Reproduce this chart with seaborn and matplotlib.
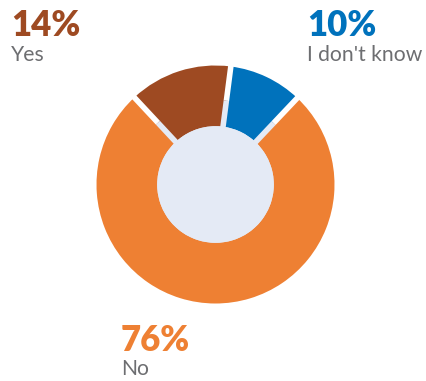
import numpy as np
import matplotlib
matplotlib.use("Agg")
import matplotlib.pyplot as plt
import seaborn as sns

categories = ["I don't know", "No", "Yes"]
values = [10, 76, 14]
pct_labels = ["10%", "76%", "14%"]
colors = ["#0072BC", "#EE8033", "#9E4A22"]

sns.set_theme(style="white")
plt.rcParams["font.family"] = ["Lato", "DejaVu Sans"]

W, H = 427, 381
fig = plt.figure(figsize=(W / 100, H / 100), dpi=100)
ax = fig.add_axes([0, 0, 1, 1])
ax.set_axis_off()

cx, cy, R = 215.5, 184.5, 119.0

light = "#E4EAF5"
start = 82.6
inner = 0.49
mid = 0.71

# light disk behind
ax.add_patch(plt.Circle((0, 0), mid, color=light, zorder=0, lw=0))

ax.pie(values, colors=colors, startangle=start, counterclock=False,
       radius=1.0, wedgeprops=dict(width=1 - inner, linewidth=0, edgecolor="none"),
       normalize=True)
for w in ax.patches[1:]:
    w.set_zorder(1)

# gaps along slice boundaries
cum = np.cumsum([0] + values) / np.sum(values) * 360.0
for a in cum[:-1]:
    ang = np.deg2rad(start - a)
    ca, sa = np.cos(ang), np.sin(ang)
    ax.plot([mid * ca, 1.05 * ca], [mid * sa, 1.05 * sa], color="white",
            lw=4.0, solid_capstyle="butt", zorder=3)
    ax.plot([(inner - 0.02) * ca, mid * ca], [(inner - 0.02) * sa, mid * sa],
            color=light, lw=4.0, solid_capstyle="butt", zorder=3)

ax.add_patch(plt.Circle((0, 0), inner, color=light, zorder=4, lw=0))

ax.set_aspect("auto")
ax.set_xlim(-cx / R, (W - cx) / R)
ax.set_ylim(-(H - cy) / R, cy / R)

# labels (pixel positions -> figure fraction)
label_pos = {"Yes": (11, 36, 61), "I don't know": (307, 36, 61), "No": (121, 351, 375)}
grey = "#6D6E71"
for cat, pct, col in zip(categories, pct_labels, colors):
    x, yb1, yb2 = label_pos[cat]
    fig.text(x / W, 1 - yb1 / H, pct, color=col, fontsize=25, fontweight="heavy",
             va="baseline", ha="left")
    fig.text(x / W, 1 - yb2 / H, cat, color=grey, fontsize=15.2,
             va="baseline", ha="left")

fig.savefig("out.png", dpi=100, facecolor="white")
